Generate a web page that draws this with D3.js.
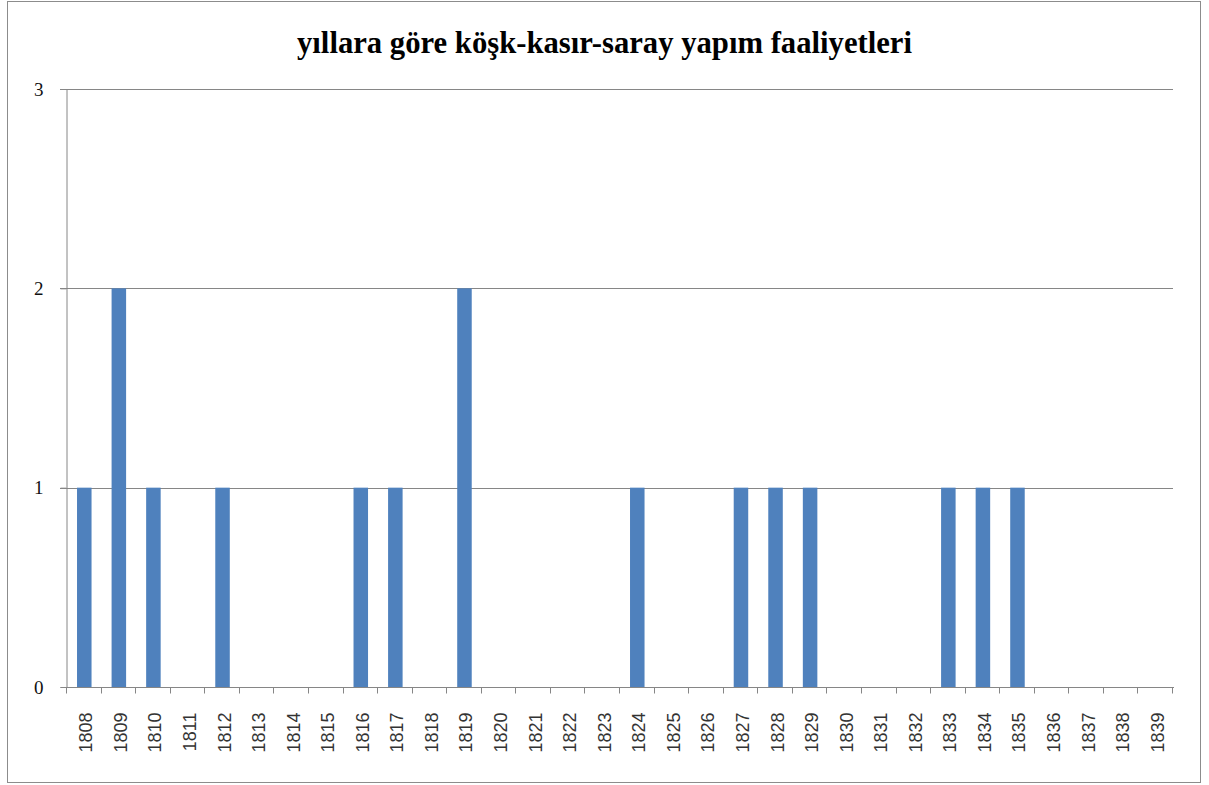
<!DOCTYPE html>
<html lang="tr">
<head>
<meta charset="UTF-8">
<script src="https://d3js.org/d3.v7.min.js"></script>
<title>yapım faaliyetleri</title>
<style>
  body { margin: 0; background: #fff; }
</style>
</head>
<body>
<svg width="1209" height="785" id="chart"></svg>
<script>
// data
const years = ["1808","1809","1810","1811","1812","1813","1814","1815","1816","1817",
               "1818","1819","1820","1821","1822","1823","1824","1825","1826","1827",
               "1828","1829","1830","1831","1832","1833","1834","1835","1836","1837",
               "1838","1839"];
const counts = [1,2,1,0,1,0,0,0,1,1,
                0,2,0,0,0,0,1,0,0,1,
                1,1,0,0,0,1,1,1,0,0,
                0,0];
const yTicks = [0,1,2,3];
const title = "yıllara göre köşk-kasır-saray yapım faaliyetleri";

const svg = d3.select("#chart");

// outer frame
svg.append("rect")
  .attr("x", 7.5).attr("y", 1.5)
  .attr("width", 1193).attr("height", 781)
  .attr("fill", "#fff")
  .attr("stroke", "#8c8c8c")
  .attr("stroke-width", 1);

// title
svg.append("text")
  .attr("x", 604.5).attr("y", 53)
  .attr("text-anchor", "middle")
  .attr("textLength", 615)
  .attr("lengthAdjust", "spacingAndGlyphs")
  .style("font-family", "'Liberation Serif', 'Times New Roman', serif")
  .style("font-weight", "bold")
  .style("font-size", "31px")
  .text(title);

const pLeft = 67, pRight = 1173, pTop = 89, pBottom = 687;

const x = d3.scaleBand().domain(years).range([pLeft, pRight]).paddingInner(0.58).paddingOuter(0.29);
const xb = d3.scaleBand().domain(years).range([pLeft, pRight]);
const y = d3.scaleLinear().domain([0, 3]).range([pBottom, pTop]);

// gridlines
svg.append("g")
  .selectAll("line")
  .data(yTicks.filter(d => d > 0))
  .join("line")
  .attr("x1", pLeft - 7).attr("x2", pRight)
  .attr("y1", d => Math.round(y(d)) + 0.5).attr("y2", d => Math.round(y(d)) + 0.5)
  .attr("stroke", "#868686").attr("stroke-width", 1);

// y axis
const yAxis = svg.append("g")
  .attr("transform", `translate(${pLeft - 0.5},0)`)
  .call(d3.axisLeft(y).tickValues(yTicks).tickSize(6).tickPadding(17).tickFormat(d3.format("d")));
yAxis.select(".domain").attr("stroke", "#868686");
yAxis.selectAll(".tick line").attr("stroke", "#868686");
yAxis.selectAll("text")
  .style("font-family", "'Liberation Serif', 'Times New Roman', serif")
  .style("font-size", "19px")
  .attr("fill", "#111");

// bars
svg.append("g")
  .selectAll("rect")
  .data(years.map((d, i) => ({ year: d, v: counts[i] })))
  .join("rect")
  .attr("x", d => x(d.year))
  .attr("width", x.bandwidth())
  .attr("y", d => y(d.v))
  .attr("height", d => pBottom - y(d.v))
  .attr("fill", "#4f81bd");

// x axis
const xg = svg.append("g").attr("transform", `translate(0,${pBottom + 0.5})`);
xg.append("line")
  .attr("x1", pLeft - 1).attr("x2", pRight + 1)
  .attr("stroke", "#868686");
xg.selectAll("line.tk")
  .data(years.concat(["end"]))
  .join("line")
  .attr("class", "tk")
  .attr("x1", d => Math.round(d === "end" ? pRight : xb(d)) - 0.5)
  .attr("x2", d => Math.round(d === "end" ? pRight : xb(d)) - 0.5)
  .attr("y1", 0).attr("y2", 6)
  .attr("stroke", "#868686");
xg.selectAll("text")
  .data(years)
  .join("text")
  .attr("transform", d => `translate(${xb(d) + xb.bandwidth() / 2 + 8},25) rotate(-90)`)
  .attr("text-anchor", "end")
  .style("font-family", "'Liberation Sans', Arial, sans-serif")
  .style("font-size", "18px")
  .attr("fill", "#333")
  .text(d => d);
</script>
</body>
</html>
